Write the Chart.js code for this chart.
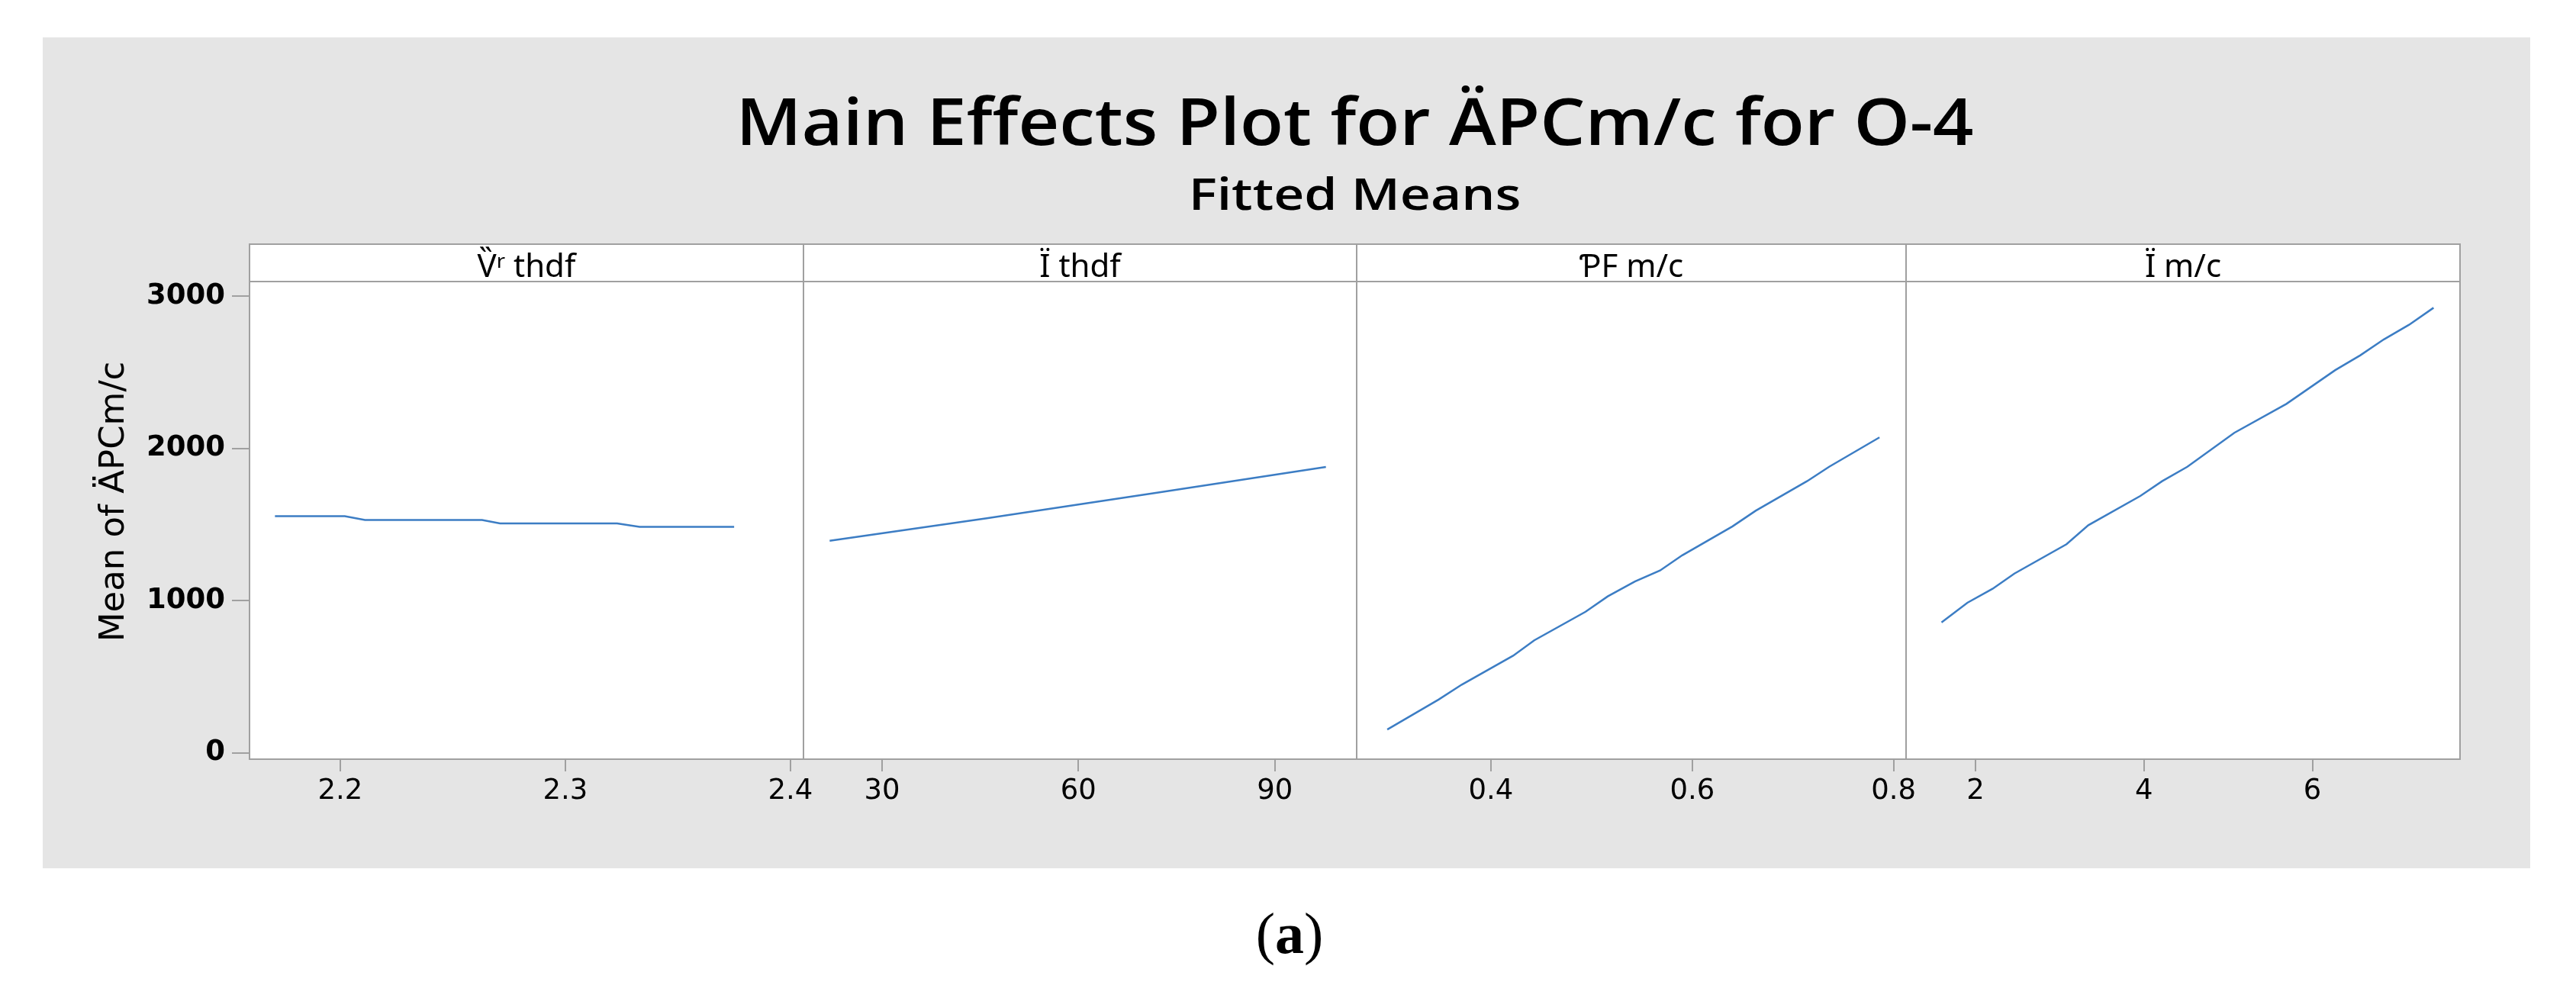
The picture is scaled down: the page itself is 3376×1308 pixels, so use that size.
<!DOCTYPE html>
<html>
<head>
<meta charset="utf-8">
<script src="https://cdn.jsdelivr.net/npm/chart.js@4.4.1/dist/chart.umd.min.js"></script>
<style>
  html, body { margin: 0; padding: 0; background: #fff; }
  body { width: 3376px; height: 1308px; position: relative; overflow: hidden; }
  #backdrop { position: absolute; left: 56px; top: 49px; width: 3260px; height: 1089px; background: #e5e5e5; }
  .head { position: absolute; left: 327px; width: 2897px; text-align: center; color: #000;
          font-family: "Open Sans", "Noto Sans", sans-serif; font-weight: 600; line-height: 1; white-space: nowrap;
          transform-origin: 50% 50%; }
  #title { top: 115px; font-size: 85px; transform: scaleX(1.1); }
  #subtitle { top: 224px; font-size: 58px; transform: scaleX(1.2); }
  #caption { position: absolute; left: 1490px; width: 400px; top: 1185px; text-align: center;
             font-family: "Liberation Serif", serif; font-size: 76px; line-height: 1; }
  canvas { position: absolute; left: 0; top: 0; }
</style>
</head>
<body>
<div id="backdrop"></div>
<div class="head" id="title">Main Effects Plot for ÄPCm/c for O-4</div>
<div class="head" id="subtitle">Fitted Means</div>
<div id="caption">(<b>a</b>)</div>
<script>
// factor names (strip labels)
const factorNames = ['V̏ʳ thdf', 'Ï thdf', 'ƤF m/c', 'Ï m/c'];

// fitted means
const vthdfX = [2.171, 2.202, 2.211, 2.263, 2.271, 2.323, 2.333, 2.375];
const vthdfMean = [1555, 1555, 1530, 1530, 1508, 1508, 1485, 1485];

const ithdfX = [22, 46, 72, 97.8];
const ithdfMean = [1394, 1541, 1709, 1879];

const pfX = [0.297, 0.348, 0.371, 0.422, 0.443, 0.494, 0.516, 0.543, 0.568, 0.590, 0.640, 0.663, 0.714, 0.736, 0.786];
const pfMean = [153, 350, 448, 638, 739, 927, 1028, 1126, 1198, 1298, 1488, 1591, 1785, 1880, 2073];

const imcX = [1.597, 1.904, 2.203, 2.462, 3.081, 3.340, 3.957, 4.216, 4.515, 5.073, 5.691, 6.270, 6.569, 6.848, 7.147, 7.438];
const imcMean = [857, 986, 1078, 1178, 1371, 1496, 1688, 1785, 1880, 2103, 2293, 2515, 2613, 2717, 2813, 2925];

// tick labels
const yTicks = [0, 1000, 2000, 3000];
const xTicks = [[2.2, 2.3, 2.4], [30, 60, 90], [0.4, 0.6, 0.8], [2, 4, 6]];

// layout of the panel row
const W = 3376, H = 1308;
const edges = [327, 1053, 1778, 2498, 3224];
const xRanges = [[2.1597, 2.4058], [18, 102.5], [0.2666, 0.8124], [1.176, 7.752]];
const stripBottom = 369;
const frameColor = '#a0a0a0';

const panelBox = {
    id: 'panelBox',
    beforeDraw(chart) {
        const { ctx, chartArea: a } = chart;
        ctx.save();
        ctx.fillStyle = '#fff';
        ctx.fillRect(a.left, a.top, a.right - a.left, a.bottom - a.top);
        ctx.restore();
    },
    afterDraw(chart, args, opts) {
        const { ctx, chartArea: a } = chart;
        ctx.save();
        ctx.strokeStyle = frameColor;
        ctx.lineWidth = 2;
        ctx.strokeRect(a.left, a.top, a.right - a.left, a.bottom - a.top);
        ctx.beginPath();
        ctx.moveTo(a.left, stripBottom);
        ctx.lineTo(a.right, stripBottom);
        ctx.stroke();
        ctx.fillStyle = '#000';
        ctx.font = '42px "Noto Sans"';
        ctx.textAlign = 'center';
        ctx.textBaseline = 'alphabetic';
        ctx.fillText(opts.label, (a.left + a.right) / 2, 363);
        ctx.restore();
    }
};

function panelChart(i, xs, ys) {
    const canvas = document.createElement('canvas');
    canvas.width = W;
    canvas.height = H;
    document.body.appendChild(canvas);
    const first = i === 0;

    return new Chart(canvas, {
        type: 'line',
        data: {
            datasets: [{
                data: xs.map((x, k) => ({ x: x, y: ys[k] })),
                borderColor: '#3c7dc4',
                borderWidth: 2.5,
                pointRadius: 0,
                tension: 0,
                fill: false
            }]
        },
        options: {
            responsive: false,
            animation: false,
            events: [],
            layout: { padding: { left: first ? 0 : edges[i], right: W - edges[i + 1], top: 320, bottom: 0 } },
            plugins: {
                legend: { display: false },
                tooltip: { enabled: false },
                panelBox: { label: factorNames[i] }
            },
            scales: {
                x: {
                    type: 'linear',
                    min: xRanges[i][0],
                    max: xRanges[i][1],
                    afterBuildTicks: s => { s.ticks = xTicks[i].map(v => ({ value: v })); },
                    afterFit: s => { s.height = H - 995; },
                    grid: { drawOnChartArea: false, drawTicks: true, tickLength: 16, color: frameColor, lineWidth: 2 },
                    border: { display: false },
                    ticks: {
                        autoSkip: false, maxRotation: 0, padding: 4, color: '#000',
                        font: { family: 'DejaVu Sans', size: 37 },
                        callback: v => String(v)
                    }
                },
                y: {
                    display: first,
                    min: -42,
                    max: 3343,
                    afterBuildTicks: s => { s.ticks = yTicks.map(v => ({ value: v })); },
                    afterFit: s => { s.width = first ? edges[0] : 0; },
                    grid: { drawOnChartArea: false, drawTicks: true, tickLength: 23, color: frameColor, lineWidth: 2 },
                    border: { display: false },
                    ticks: {
                        padding: 9, color: '#000',
                        font: { family: 'DejaVu Sans', size: 37, weight: 'bold' },
                        callback: v => String(v)
                    },
                    title: {
                        display: true,
                        text: 'Mean of ÄPCm/c',
                        color: '#000',
                        font: { family: 'DejaVu Sans', size: 45 },
                        padding: { top: 123, bottom: 0 }
                    }
                }
            }
        },
        plugins: [panelBox]
    });
}

document.addEventListener('DOMContentLoaded', () => {
    panelChart(0, vthdfX, vthdfMean);
    panelChart(1, ithdfX, ithdfMean);
    panelChart(2, pfX, pfMean);
    panelChart(3, imcX, imcMean);
});
</script>
</body>
</html>
